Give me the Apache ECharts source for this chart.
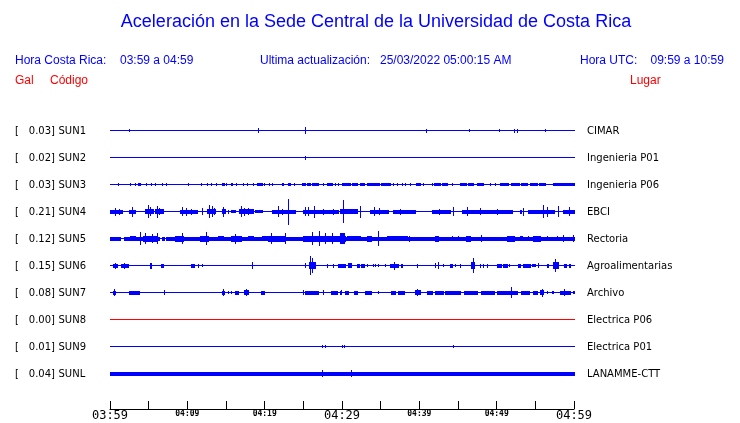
<!DOCTYPE html>
<html><head><meta charset="utf-8">
<script src="https://cdn.jsdelivr.net/npm/echarts@6/dist/echarts.min.js"></script>
<style>html,body{margin:0;padding:0;background:#fff}#c{width:740px;height:423px}</style>
</head><body><div id="c"></div><script>
// ---------------- DATA ----------------
const stations = ['SUN1','SUN2','SUN3','SUN4','SUN5','SUN6','SUN7','SUN8','SUN9','SUNL'];
const peakGal = ['0.03','0.02','0.03','0.21','0.12','0.15','0.08','0.00','0.01','0.04'];
const places = ['CIMAR','Ingenieria P01','Ingenieria P06','EBCI','Rectoria','Agroalimentarias','Archivo','Electrica P06','Electrica P01','LANAMME-CTT'];
const tickLabels = ['03:59','04:09','04:19','04:29','04:39','04:49','04:59'];
const headerLocal = '03:59 a 04:59';
const headerUTC = '09:59 a 10:59';
const updated = '25/03/2022 05:00:15 AM';
// events per trace: [start minute, end minute, amplitude]
const sun1 = [[2.46,2.46,1],[19.1,19.1,2],[25.2,25.2,3],[40.9,40.9,1.5],[46.4,46.4,1],[50.3,50.3,1],[52.2,52.2,1.5],[52.6,52.6,1.5],[56.3,56.3,1]];
const sun2 = [[25.2,25.2,1.5]];
const sun3 = [[1.08,1.08,1],[2.59,2.59,1],[3.23,3.23,1],[3.66,3.84,1],[4.61,4.61,1],[5.26,5.35,1],[5.82,5.82,1],[6.68,6.68,1],[7.24,7.24,1],[10.13,10.13,1],[11.72,11.72,1],[12.5,12.5,1],[13.06,13.06,1],[13.7,13.7,1],[14.44,14.7,1],[15.0,15.0,1],[15.6,15.73,1],[16.25,16.25,1],[17.24,17.24,1],[17.67,17.67,1],[18.45,18.45,1],[18.97,19.61,1],[19.96,19.96,1],[20.56,20.56,1],[20.9,20.9,1],[22.2,22.41,1],[23.06,23.32,1],[23.79,23.79,1],[24.78,25.22,1],[25.43,25.9,1],[26.1,26.94,1],[27.59,27.59,1],[28.02,28.66,1],[29.09,29.09,1],[29.53,29.53,1],[29.96,30.39,1],[30.5,31.0,1],[31.3,31.9,1],[32.33,32.9,1],[33.2,33.84,1],[34.05,34.8,1],[35.0,35.5,1],[35.7,36.21,1],[36.64,36.64,1],[37.07,37.07,1],[37.72,37.72,1],[38.15,38.15,1],[38.79,38.79,1],[39.57,40.09,1],[40.52,40.52,1],[41.59,41.59,1],[41.94,42.67,1],[42.89,43.53,1],[44.18,44.18,1],[45.26,46.0,1],[46.3,46.98,1],[47.41,48.28,1],[49.14,49.14,1],[49.78,49.78,1],[50.43,51.5,1],[51.8,52.9,1],[53.1,53.88,1],[54.31,55.2,1],[55.5,56.25,1],[57.33,58.4,1],[58.6,59.3,1],[59.5,60,1]];
const sun4 = [[0,1.6,1.5],[0.65,0.65,3.5],[1.1,1.1,2.5],[2.5,3.2,1.5],[2.8,2.8,4.5],[4.5,5.6,2],[4.96,4.96,6],[5.2,5.2,4],[5.8,6.8,2],[6.1,6.1,5.5],[6.4,6.4,3],[9.05,11.2,1.5],[9.3,9.3,4],[9.8,9.8,3.5],[10.5,10.5,2.5],[11.85,11.85,3],[12.5,13.6,2],[12.85,12.85,6],[13.15,13.15,5],[13.4,13.4,3],[14.44,14.9,2],[14.66,14.66,4.5],[15.2,15.2,1.5],[15.7,16.1,1],[16.7,18.5,2],[17.0,17.0,5],[17.3,17.3,3.5],[17.9,17.9,3],[18.8,19.6,1],[20.9,23.9,1.5],[21.77,21.77,5],[22.3,22.3,2.5],[23.0,23.0,12.5],[25.0,29.5,1.5],[25.2,25.2,4],[25.6,25.6,4],[26.4,26.4,5.5],[27.5,27.5,2.5],[28.8,28.8,2.5],[30.1,30.1,11],[29.8,32.0,2],[32.33,32.33,5.5],[33.6,36.0,1.5],[34.2,34.2,4],[34.8,34.8,3],[36.6,39.4,1.5],[37.5,37.5,2.5],[41.6,44.0,1.5],[42.5,42.5,2.5],[44.4,44.4,4],[45.5,52.0,1.5],[46.1,46.1,4],[47.8,47.8,3],[50.0,50.0,2.5],[53.0,53.2,1.5],[53.4,53.4,3.5],[54.1,57.4,1.5],[56.0,56.0,6],[56.5,56.5,4.5],[57.9,57.9,5],[58.6,60,1.5],[59.3,59.3,4]];
const sun5 = [[0,1.3,1.5],[1.75,6.4,1.5],[6.7,7.0,1.5],[7.3,60,1.5],[2.6,3.2,2],[3.88,3.88,6],[4.3,6.0,2.5],[4.5,4.5,5],[5.4,5.4,4],[6.1,6.1,5],[8.4,9.5,2.5],[9.3,9.3,5],[11.6,12.7,2.5],[12.4,12.4,6],[14.0,14.6,2],[15.7,17.0,2.5],[16.2,16.2,4.5],[17.9,18.5,2],[19.6,20.9,2],[20.4,22.6,2.5],[20.8,20.8,5],[22.6,22.6,5],[25.0,30.4,2.5],[26.1,26.1,6],[27.0,27.0,7],[27.8,27.8,5],[28.7,28.7,5],[29.8,30.2,5],[30.6,32.3,2],[33.2,33.7,2.5],[34.7,34.7,7],[35.8,38.4,2],[38.6,38.6,2.5],[42.0,42.4,2.5],[44.2,44.2,2],[45.0,45.0,2],[46.0,46.6,2.5],[48.0,48.0,3],[51.3,52.2,2.5],[53.0,53.3,2],[54.0,54.0,2],[54.7,55.6,2.5],[56.5,56.5,2],[57.8,57.8,2],[58.6,58.6,3],[59.9,59.9,3]];
const sun6 = [[0.65,0.65,2.5],[0.4,0.9,1.5],[1.42,2.37,1.5],[1.8,1.8,2.5],[5.2,5.3,2.5],[6.6,6.8,1.5],[10.5,10.9,1.5],[11.34,11.34,1.5],[11.9,11.9,1],[18.4,18.4,3],[25.2,25.2,2],[25.7,26.5,3],[25.9,25.9,9],[26.1,26.1,7],[28.1,28.1,1.5],[28.9,28.9,1.5],[29.5,30.4,1.5],[30.8,31.1,2],[32.0,32.2,1.5],[32.5,32.8,1.5],[33.2,33.2,1],[34.0,34.0,1],[34.3,34.3,1],[34.7,34.7,1],[35.5,35.5,1],[36.2,37.3,1.5],[36.7,36.7,3.5],[37.6,37.8,1.5],[39.7,39.7,1.5],[42.0,42.0,2],[42.4,42.4,3],[43.1,43.1,1],[44.0,44.2,1.5],[44.6,44.6,1],[45.3,45.3,1.5],[46.7,47.1,3],[46.9,46.9,7],[47.8,47.8,1.5],[48.2,48.2,1.5],[48.7,48.7,1.5],[50.1,50.5,1.5],[50.8,51.3,1.5],[51.6,51.6,1],[52.8,53.0,1.5],[53.4,53.9,1.5],[54.0,54.3,1.5],[54.6,54.9,1],[55.4,55.4,2],[56.5,56.7,1.5],[57.3,57.9,3],[57.5,57.5,6],[58.7,59.0,1.5],[59.3,59.5,1.5]];
const sun7 = [[0.56,0.56,3],[0.4,0.7,1.5],[2.46,3.23,1.5],[3.3,3.8,1.5],[7.0,7.0,2],[14.66,14.66,3],[14.5,14.8,1.5],[15.2,15.2,1],[15.6,15.6,1],[16.1,16.6,1.5],[17.3,17.9,2],[17.6,17.6,3],[19.5,19.9,1.5],[25.0,25.0,2],[25.2,26.9,1.5],[27.6,27.6,2],[28.6,29.4,1.5],[29.9,29.9,2],[29.74,29.8,1.5],[30.4,30.8,1.5],[31.5,31.9,1.5],[33.0,33.7,1.5],[34.7,34.7,1],[36.3,36.8,1.5],[37.3,38.0,1.5],[39.4,40.1,2],[39.7,39.7,3],[41.0,41.2,1.5],[41.4,41.7,1.5],[42.0,42.6,1.5],[42.7,43.1,1.5],[43.3,45.2,1.5],[45.8,46.1,1.5],[46.3,47.5,1.5],[48.0,49.6,1.5],[50.0,50.6,1.5],[50.6,51.3,1.5],[51.5,52.6,1.5],[51.9,51.9,5],[53.2,54.2,1.5],[54.7,55.2,1.5],[55.6,56.0,2],[55.8,55.8,3.5],[56.5,56.5,1],[57.1,57.3,1],[58.2,59.5,1.5],[58.7,58.7,3],[59.9,60,1]];
const sun8 = [];
const sun9 = [[27.4,27.4,1],[27.8,27.8,1],[30.0,30.0,1],[30.3,30.3,1],[44.3,44.3,1]];
const sunL = [[0,60,1.5],[27.46,27.46,3],[31.1,31.1,3]];
const traces = [sun1,sun2,sun3,sun4,sun5,sun6,sun7,sun8,sun9,sunL];

// ---------------- STYLE / LAYOUT ----------------
const BLUE = '#0000ff', RED = '#ff0000';
const traceColors = [BLUE,BLUE,BLUE,BLUE,BLUE,BLUE,BLUE,RED,BLUE,BLUE];
const ROW0 = 13, ROW_STEP = 27;
const items = [];
traces.forEach((ev, i) => {
  items.push([i, 0, 60, 0]);
  ev.forEach(e => items.push([i, e[0], e[1], e[2]]));
});

function renderItem(params, api) {
  const i = api.value(0), t0 = api.value(1), t1 = api.value(2), a = api.value(3);
  const c = ROW0 + ROW_STEP * i;
  const p0 = api.coord([t0, c - a]);
  const p1 = api.coord([t1, c + a]);
  const x0 = Math.round(p0[0]), x1 = Math.round(p1[0]);
  const y0 = Math.round(p0[1]), y1 = Math.round(p1[1]);
  return {
    type: 'rect',
    shape: { x: x0, y: y0, width: Math.max(1, x1 - x0 + 1), height: y1 - y0 + 1 },
    style: { fill: traceColors[i] }
  };
}

const chart = echarts.init(document.getElementById('c'), null, { renderer: 'canvas' });
chart.setOption({
  animation: false,
  grid: { left: 110, right: 166, top: 117, bottom: 14 },
  xAxis: {
    type: 'value', min: 0, max: 60, interval: 5,
    axisLine: { show: true, onZero: false, lineStyle: { color: '#000', width: 1 } },
    axisTick: { show: true, inside: true, length: 8, lineStyle: { color: '#000', width: 1 } },
    splitLine: { show: false },
    axisLabel: {
      show: true, margin: 1, hideOverlap: false, showMinLabel: true, showMaxLabel: true,
      formatter: function (v) {
        if (v % 10 !== 0) return '';
        const k = v / 10;
        return '{' + (k % 3 === 0 ? 'big' : 'sm') + '|' + tickLabels[k] + '}';
      },
      rich: {
        big: { fontFamily: 'DejaVu Sans Mono', fontSize: 12, color: '#000' },
        sm: { fontFamily: 'DejaVu Sans Mono', fontSize: 8, fontWeight: 'bold', color: '#000' }
      }
    }
  },
  yAxis: { type: 'value', min: 0, max: 292, inverse: true, show: false },
  series: [{
    type: 'custom', renderItem: renderItem, clip: false,
    dimensions: ['row', 't0', 't1', 'amp'],
    encode: { x: ['t0', 't1'] },
    data: items
  }]
});

// text labels
const hdr = '12px "Liberation Sans", Arial, sans-serif';
const lab = '10px "DejaVu Sans", sans-serif';
const g = [];
function txt(text, x, y, font, fill, align) {
  g.push({ type: 'text', x: x, y: y, silent: true,
    style: { text: text, font: font, fill: fill, align: align || 'left', verticalAlign: 'middle' } });
}
txt('Aceleración en la Sede Central de la Universidad de Costa Rica', 376, 22, '18px "Liberation Sans", Arial, sans-serif', BLUE, 'center');
txt('Hora Costa Rica:', 15, 61, hdr, BLUE);
txt(headerLocal, 120, 61, hdr, BLUE);
txt('Ultima actualización:', 260, 61, hdr, BLUE);
txt(updated, 380, 61, hdr, BLUE);
txt('Hora UTC:', 580, 61, hdr, BLUE);
txt(headerUTC, 650.5, 61, hdr, BLUE);
txt('Gal', 15, 81, hdr, RED);
txt('Código', 50, 81, hdr, RED);
txt('Lugar', 630, 81, hdr, RED);
stations.forEach((s, i) => {
  const y = chart.convertToPixel({ yAxisIndex: 0 }, ROW0 + ROW_STEP * i) + 1;
  txt('[', 15, y, lab, '#000');
  txt(peakGal[i] + ']', 55, y, lab, '#000', 'right');
  txt(s, 58.5, y, lab, '#000');
  txt(places[i], 587, y, lab, '#000');
});
chart.setOption({ graphic: g });
</script></body></html>
